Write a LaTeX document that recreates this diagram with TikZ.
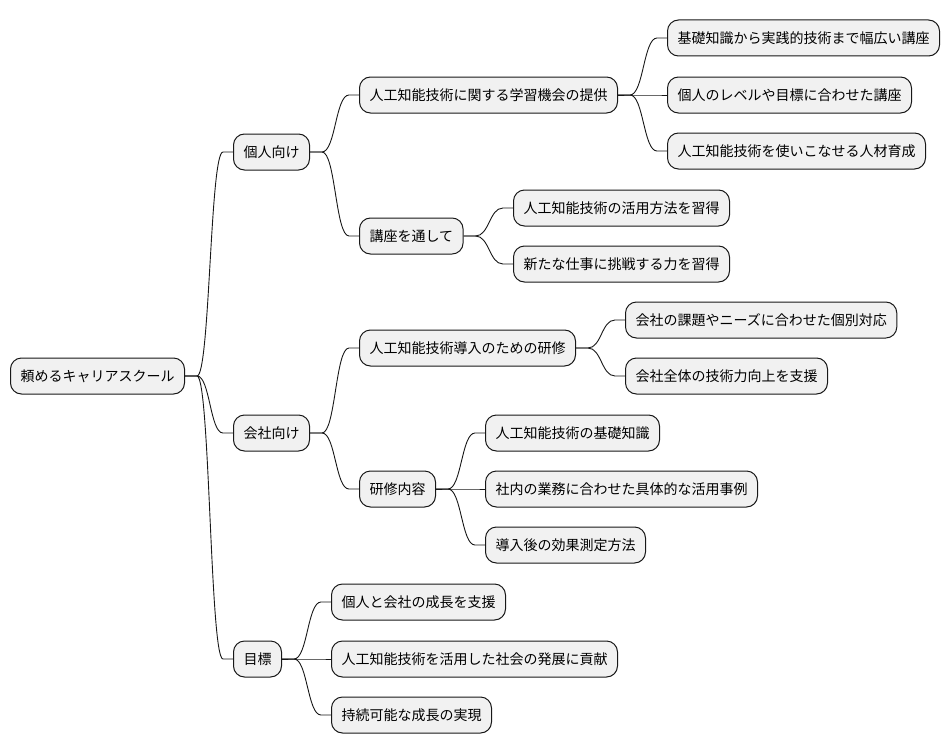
\documentclass[tikz,border=0pt]{standalone}
\usepackage{fontspec}
\setmainfont{Noto Sans CJK JP}
\usetikzlibrary{calc}
\definecolor{boxfill}{HTML}{F1F1F1}
\definecolor{boxline}{HTML}{181818}
\tikzset{
  mm/.style={draw=boxline, fill=boxfill, rounded corners=11pt, line width=1pt,
    minimum height=36pt, inner xsep=10pt, inner ysep=0pt, anchor=west,
    font=\fontsize{14}{16}\selectfont, text=black},
  link/.style={draw=boxline, line width=0.9pt}
}
\newcommand\mmlink[2]{%
  \path (#1.east) ++(12,0) coordinate (s);
  \path (#2.west) ++(-10,0) coordinate (t);
  \path ($(s)!0.5!(t)$) coordinate (m);
  \draw[link] (#1.east) -- (s) .. controls (m |- s) and (m |- t) .. (t) -- (#2.west);
}
\begin{document}
\begin{tikzpicture}[x=1pt,y=-1pt]
\useasboundingbox (0,0) rectangle (950,752);
\node[mm] (root) at (10,376) {頼めるキャリアスクール};
\node[mm] (a) at (233,152) {個人向け};
\node[mm] (b) at (233,433) {会社向け};
\node[mm] (c) at (233,659) {目標};
\node[mm] (a1) at (359,95) {人工知能技術に関する学習機会の提供};
\node[mm] (a2) at (359,236) {講座を通して};
\node[mm] (b1) at (359,348) {人工知能技術導入のための研修};
\node[mm] (b2) at (359,489) {研修内容};
\node[mm] (c1) at (331,602) {個人と会社の成長を支援};
\node[mm] (c2) at (331,659) {人工知能技術を活用した社会の発展に貢献};
\node[mm] (c3) at (331,715) {持続可能な成長の実現};
\node[mm] (a11) at (667,38) {基礎知識から実践的技術まで幅広い講座};
\node[mm] (a12) at (667,95) {個人のレベルや目標に合わせた講座};
\node[mm] (a13) at (667,151) {人工知能技術を使いこなせる人材育成};
\node[mm] (a21) at (513,208) {人工知能技術の活用方法を習得};
\node[mm] (a22) at (513,264) {新たな仕事に挑戦する力を習得};
\node[mm] (b11) at (625,320) {会社の課題やニーズに合わせた個別対応};
\node[mm] (b12) at (625,376) {会社全体の技術力向上を支援};
\node[mm] (b21) at (485,433) {人工知能技術の基礎知識};
\node[mm] (b22) at (485,489) {社内の業務に合わせた具体的な活用事例};
\node[mm] (b23) at (485,545) {導入後の効果測定方法};
\foreach \p/\c in {root/a,root/b,root/c,a/a1,a/a2,b/b1,b/b2,c/c1,c/c2,c/c3,
  a1/a11,a1/a12,a1/a13,a2/a21,a2/a22,b1/b11,b1/b12,b2/b21,b2/b22,b2/b23}{
  \mmlink{\p}{\c}
}
\end{tikzpicture}
\end{document}
